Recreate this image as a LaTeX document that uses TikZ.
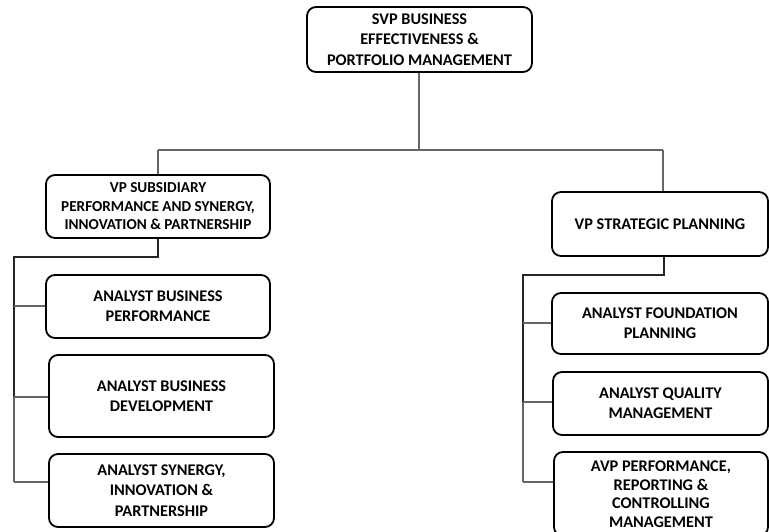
\documentclass[tikz,border=0pt]{standalone}
\usepackage{fontspec}
\setmainfont{Carlito}
\begin{document}
\begin{tikzpicture}[x=1pt,y=-1pt,
  box/.style={draw=black, line width=1.8pt, rounded corners=9pt, fill=white,
    inner sep=0pt, align=center, font=\bfseries\fontsize{16.3}{20.3}\selectfont},
  bus/.style={draw=black!85, line width=1.6pt},
  twig/.style={draw=black!60, line width=1.2pt}]
\clip (0,0) rectangle (769,531);
\fill[white] (0,0) rectangle (769,531);
% top
\node[box, minimum width=225pt, minimum height=65pt] (svp) at (419.5,39.5) {SVP BUSINESS\\EFFECTIVENESS \&\\PORTFOLIO MANAGEMENT};
% left
\node[box, minimum width=224pt, minimum height=63pt, font=\bfseries\fontsize{15.2}{18.5}\selectfont] (vpl) at (158,206.5) {VP SUBSIDIARY\\PERFORMANCE AND SYNERGY,\\INNOVATION \& PARTNERSHIP};
\node[box, minimum width=224pt, minimum height=63pt] (l1) at (158,306.5) {ANALYST BUSINESS\\PERFORMANCE};
\node[box, minimum width=225pt, minimum height=82pt] (l2) at (161.5,396) {ANALYST BUSINESS\\DEVELOPMENT};
\node[box, minimum width=225pt, minimum height=73pt] (l3) at (161.5,490.5) {ANALYST SYNERGY,\\INNOVATION \&\\PARTNERSHIP};
% right
\node[box, minimum width=216pt, minimum height=64pt] (vpr) at (660,224) {VP STRATEGIC PLANNING};
\node[box, minimum width=216pt, minimum height=61pt] (r1) at (660,323.5) {ANALYST FOUNDATION\\PLANNING};
\node[box, minimum width=215pt, minimum height=63pt] (r2) at (660.5,403.5) {ANALYST QUALITY\\MANAGEMENT};
\node[box, minimum width=214pt, minimum height=84pt, font=\bfseries\fontsize{16.3}{18.5}\selectfont] (r3) at (661,494) {AVP PERFORMANCE,\\REPORTING \&\\CONTROLLING\\MANAGEMENT};
% connectors top
\coordinate (jt) at (419,150);
\coordinate (jl) at (158,150);
\coordinate (jr) at (663,150);
\draw[twig] (svp.south -| jt) -- (jt);
\draw[twig] (jl) -- (jr);
\draw[twig] (jl) -- (vpl.north -| jl);
\draw[twig] (jr) -- (vpr.north -| jr);
% left bus
\coordinate (lb1) at (158,257);
\coordinate (lb2) at (14,257);
\coordinate (lb3) at (14,482);
\draw[bus] (vpl.south -| lb1) -- (lb1) -- (lb2) -- (14,397);
\draw[twig] (14,397) -- (lb3);
\draw[twig] (14,306) -- (l1.west |- 14,306);
\draw[twig] (14,397) -- (l2.west |- 14,397);
\draw[twig] (lb3) -- (l3.west |- lb3);
% right bus
\coordinate (rb1) at (664,275);
\coordinate (rb2) at (523,275);
\coordinate (rb3) at (523,482);
\draw[bus] (vpr.south -| rb1) -- (rb1) -- (rb2) -- (523,402);
\draw[twig] (523,402) -- (rb3);
\draw[twig] (523,323) -- (r1.west |- 523,323);
\draw[twig] (523,402) -- (r2.west |- 523,402);
\draw[twig] (rb3) -- (r3.west |- rb3);
\end{tikzpicture}
\end{document}
